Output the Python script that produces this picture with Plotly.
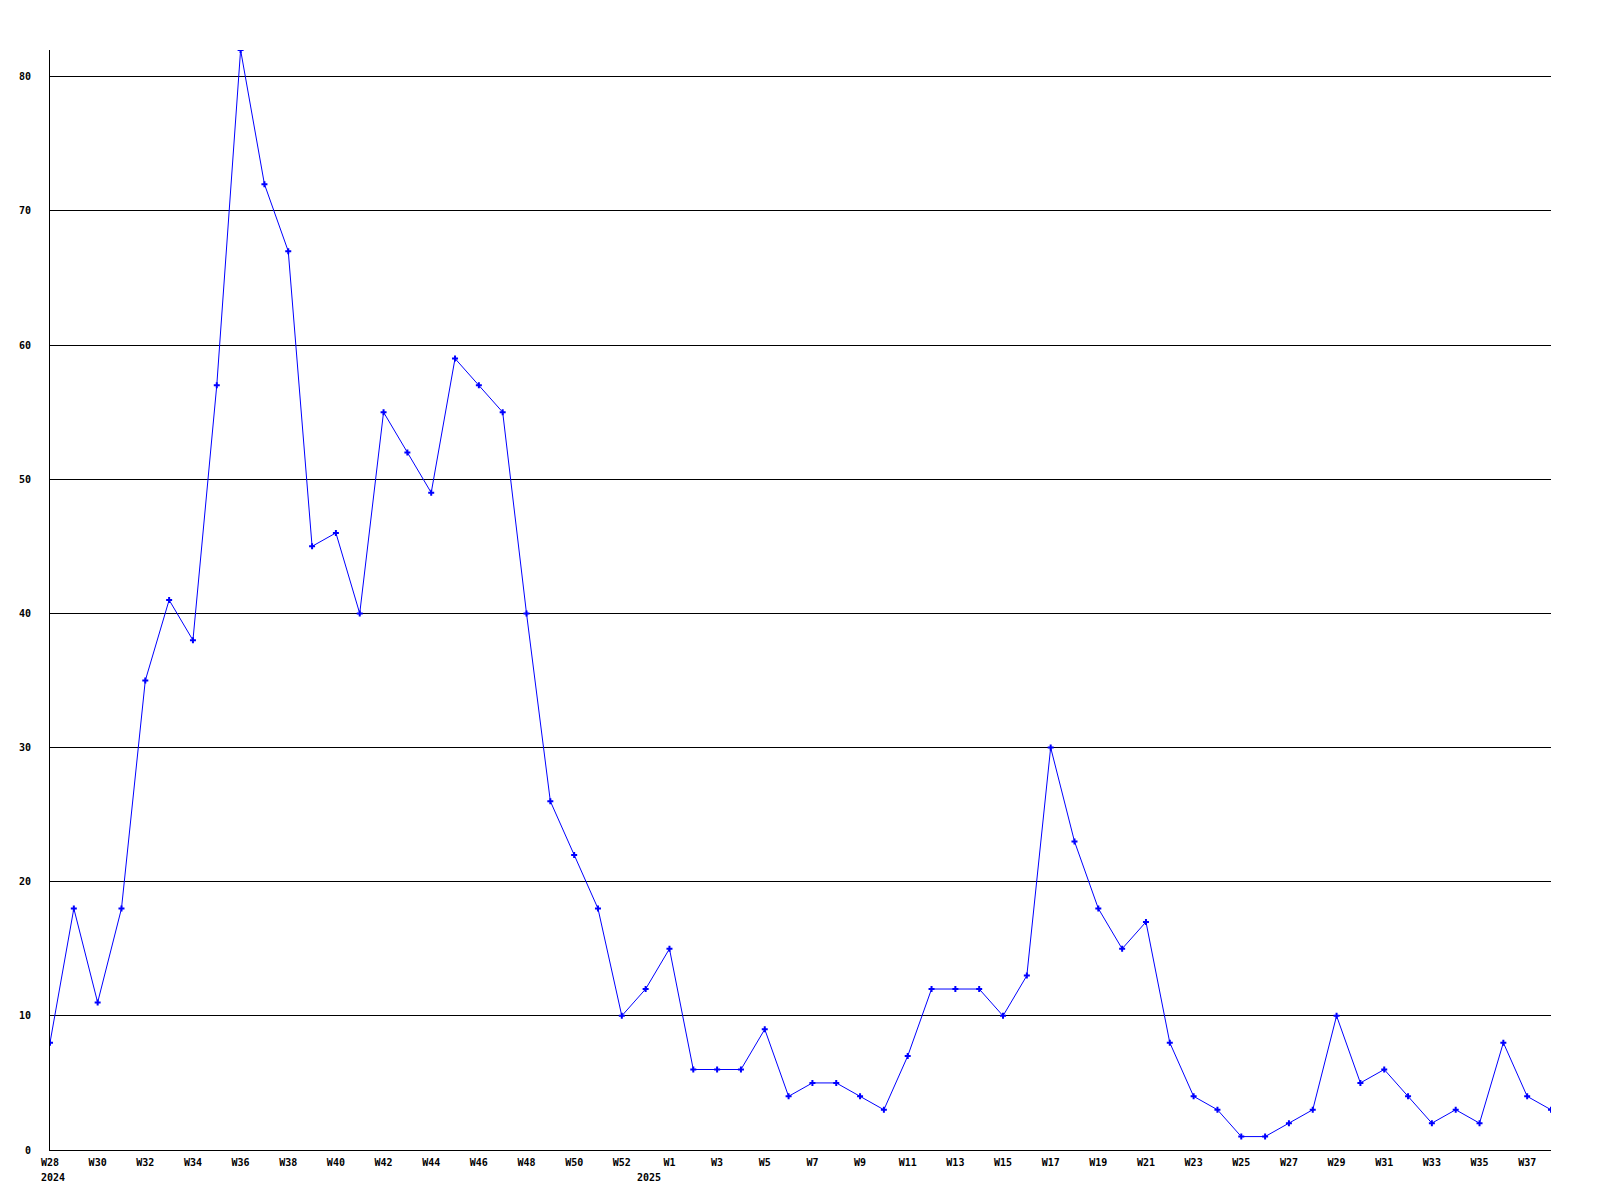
import plotly.graph_objects as go

weeks_2024 = [f"W{i}" for i in range(28, 54)]
weeks_2025 = [f"W{i}" for i in range(1, 39)]
values_2024 = [8, 18, 11, 18, 35, 41, 38, 57, 82, 72, 67, 45, 46, 40, 55, 52, 49, 59, 57, 55,
               40, 26, 22, 18, 10, 12]
values_2025 = [15, 6, 6, 6, 9, 4, 5, 5, 4, 3, 7, 12, 12, 12, 10, 13, 30, 23, 18, 15, 17, 8,
               4, 3, 1, 1, 2, 3, 10, 5, 6, 4, 2, 3, 2, 8, 4, 3]
years = ["2024", "2025"]
y_ticks = [0, 10, 20, 30, 40, 50, 60, 70, 80]

labels = weeks_2024 + weeks_2025
values = values_2024 + values_2025
xs = list(range(len(labels)))

tickvals = [i for i in xs if i % 2 == 0]
ticktext = [labels[i] for i in tickvals]

font = dict(family="DejaVu Sans Mono", size=10, color="black", weight="bold")

fig = go.Figure()
fig.add_trace(go.Scatter(
    x=xs, y=values, mode="lines+markers",
    line=dict(color="#0000FF", width=1),
    marker=dict(symbol="cross", size=5, color="#0000FF"),
    hoverinfo="skip",
))

first_2025 = len(weeks_2024)
fig.add_annotation(x=0, y=0, yref="paper", text=years[0], showarrow=False,
                   xanchor="left", yanchor="top", xshift=-11, yshift=-20, font=font)
fig.add_annotation(x=first_2025 - 0.85, y=0, yref="paper", text=years[1], showarrow=False,
                   xanchor="center", yanchor="top", yshift=-20, font=font)

fig.update_layout(
    width=1600, height=1200,
    margin=dict(l=42, r=57, t=42, b=58),
    paper_bgcolor="white", plot_bgcolor="white",
    showlegend=False,
    font=font,
    xaxis=dict(range=[0, len(labels) - 1], tickvals=tickvals, ticktext=ticktext,
               showgrid=False, zeroline=False, showline=True, linecolor="black",
               linewidth=1, ticks="", tickfont=font, ticklabelstandoff=3),
    yaxis=dict(range=[0, 82], tickvals=y_ticks, ticktext=[str(v) for v in y_ticks],
               showgrid=True, gridcolor="black", gridwidth=1, zeroline=False,
               showline=True, linecolor="black", linewidth=1, ticks="",
               tickfont=font, ticklabelstandoff=16),
)

fig.write_html("out.html")
